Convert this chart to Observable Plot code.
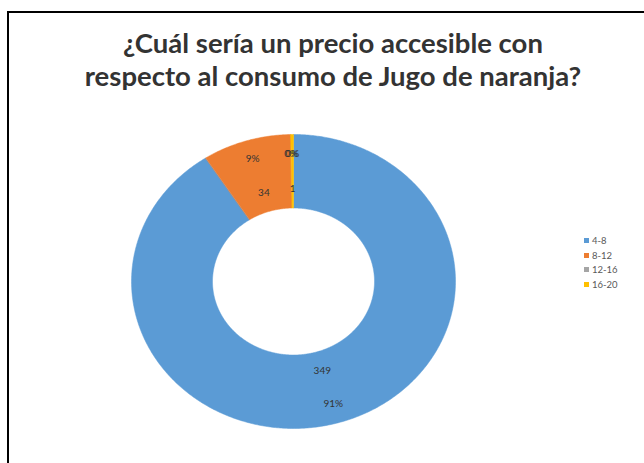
<!DOCTYPE html>
<html>
<head>
<meta charset="utf-8">
<script src="https://cdn.jsdelivr.net/npm/d3@7"></script>
<script src="https://cdn.jsdelivr.net/npm/@observablehq/plot@0.6"></script>
<style>
  html, body { margin: 0; padding: 0; background: #fff; width: 644px; height: 463px; overflow: hidden; }
  #wrap { position: relative; width: 644px; height: 463px; }
  #frame { position: absolute; left: 7px; top: 11px; width: 660px; height: 480px; border: 2px solid #000; box-sizing: border-box; }
  #title { position: absolute; left: 0; top: 26px; width: 666px; text-align: center; font-family: Lato, sans-serif; font-weight: 700; font-size: 27.5px; line-height: 33px; color: #333; }
  #chart { position: absolute; left: 0; top: 0; }
  #legend { position: absolute; left: 584px; top: 234px; font-family: Lato, sans-serif; font-size: 9.5px; color: #595959; }
  #legend div { height: 14.7px; line-height: 14px; white-space: nowrap; }
  #legend span.sw { display: inline-block; width: 5px; height: 5px; margin-right: 3px; vertical-align: 1px; }
</style>
</head>
<body>
<div id="wrap">
  <div id="frame"></div>
  <div id="chart"></div>
  <div id="title">¿Cuál sería un precio accesible con<br>respecto al consumo de Jugo de naranja?</div>
  <div id="legend"></div>
</div>
<script>
// Data
const categories = ["4-8", "8-12", "12-16", "16-20"];
const counts = [349, 34, 0, 1];
const colors = ["#5B9BD5", "#ED7D31", "#A5A5A5", "#FFC000"];

const total = d3.sum(counts);
const rows = categories.map((c, i) => ({key: c, value: counts[i], share: counts[i] / total}));

const pie = d3.pie().value(d => d.value).sort(null);
const arcs = pie(rows);

const inner = 0.5, outer = 1.0;
const poly = [];
for (const a of arcs) {
  if (a.data.value <= 0) continue;
  const n = Math.max(2, Math.ceil((a.endAngle - a.startAngle) / 0.01));
  for (let k = 0; k <= n; k++) {
    const t = a.startAngle + (a.endAngle - a.startAngle) * k / n;
    poly.push({key: a.data.key, x: outer * Math.sin(t), y: outer * Math.cos(t)});
  }
  for (let k = n; k >= 0; k--) {
    const t = a.startAngle + (a.endAngle - a.startAngle) * k / n;
    poly.push({key: a.data.key, x: inner * Math.sin(t), y: inner * Math.cos(t)});
  }
}

const valueLabels = arcs.filter(a => a.data.value > 0).map(a => {
  const m = (a.startAngle + a.endAngle) / 2;
  return {x: 0.63 * Math.sin(m), y: 0.63 * Math.cos(m), text: String(a.data.value)};
});
const pctLabels = arcs.map(a => {
  const m = (a.startAngle + a.endAngle) / 2;
  return {x: 0.87 * Math.sin(m), y: 0.87 * Math.cos(m), text: d3.format(".0%")(a.data.share)};
});

const chart = Plot.plot({
  width: 644,
  height: 463,
  margin: 0,
  x: {domain: [-1, 1], range: [131, 455], axis: null},
  y: {domain: [-1, 1], range: [428, 134], axis: null},
  color: {domain: categories, range: colors},
  style: {background: "transparent", fontFamily: "Lato, sans-serif"},
  marks: [
    Plot.line(poly, {x: "x", y: "y", z: "key", fill: "key", stroke: "key", strokeWidth: 0.5, curve: "linear-closed"}),
    Plot.text(valueLabels, {x: "x", y: "y", text: "text", fill: "#333", fontSize: 10}),
    Plot.text(pctLabels, {x: "x", y: "y", text: "text", fill: "#333", fontSize: 10})
  ]
});
document.getElementById("chart").appendChild(chart);

const legend = document.getElementById("legend");
categories.forEach((c, i) => {
  const d = document.createElement("div");
  const sw = document.createElement("span");
  sw.className = "sw";
  sw.style.background = colors[i];
  d.appendChild(sw);
  d.appendChild(document.createTextNode(c));
  legend.appendChild(d);
});
</script>
</body>
</html>
